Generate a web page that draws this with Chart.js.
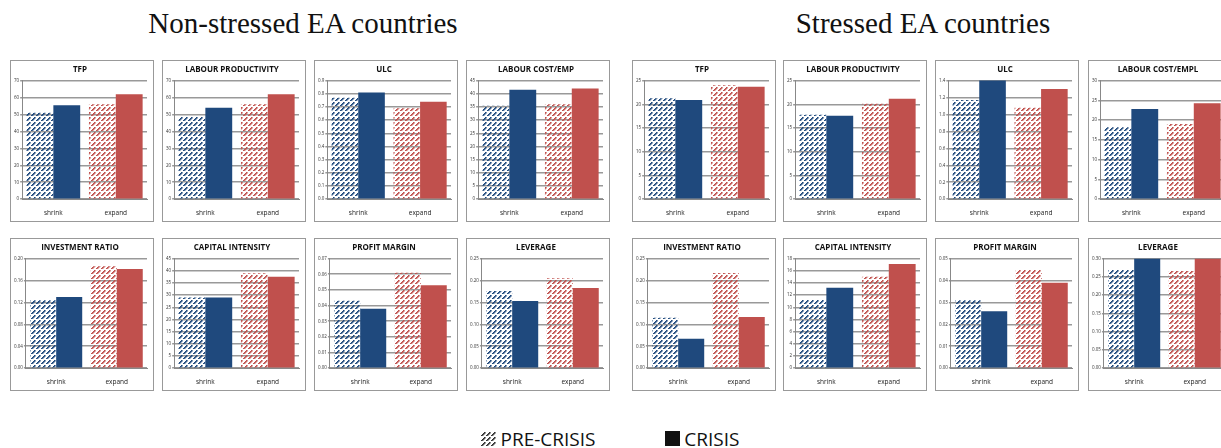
<!DOCTYPE html>
<html>
<head>
<meta charset="utf-8">
<script src="https://cdn.jsdelivr.net/npm/chart.js@4"></script>
<style>
  body { margin: 0; width: 1221px; height: 448px; overflow: hidden; background: #fff; position: relative; font-family: "Open Sans", sans-serif; }
  .group-title { position: absolute; top: 7px; font-family: "Liberation Serif", serif; font-size: 29px; color: #111; text-align: center; width: 500px; }
  .panel { position: absolute; border: 1px solid #999; background: #fff; box-sizing: border-box; }
  .legend { position: absolute; top: 424px; left: 0; width: 1221px; text-align: center; font-size: 19px; color: #111; }
  .legend span { display: inline-block; vertical-align: middle; }
  .sw { width: 15px; height: 15px; margin-right: 4px; }
</style>
</head>
<body>
<div class="group-title" style="left:53px">Non-stressed EA countries</div>
<div class="group-title" style="left:673px">Stressed EA countries</div>
<div class="legend">
  <canvas id="swPre" class="sw" width="15" height="15" style="vertical-align:middle"></canvas><span>PRE-CRISIS</span>
  <span style="width:60px"></span>
  <span class="sw" style="background:#111"></span><span>CRISIS</span>
</div>
<script>
// categories and panel titles
const categories = ['shrink', 'expand'];
const nsTitles = ['TFP', 'LABOUR PRODUCTIVITY', 'ULC', 'LABOUR COST/EMP', 'INVESTMENT RATIO', 'CAPITAL INTENSITY', 'PROFIT MARGIN', 'LEVERAGE'];
const sTitles = ['TFP', 'LABOUR PRODUCTIVITY', 'ULC', 'LABOUR COST/EMPL', 'INVESTMENT RATIO', 'CAPITAL INTENSITY', 'PROFIT MARGIN', 'LEVERAGE'];

// Non-stressed values: [shrink, expand]
const nsPre = [[51, 56], [48.5, 56], [0.77, 0.69], [35.5, 36], [0.124, 0.186], [29, 39], [0.043, 0.061], [0.176, 0.205]];
const nsCrisis = [[55.5, 62], [54, 62], [0.81, 0.74], [41.5, 42], [0.13, 0.181], [29, 37.5], [0.038, 0.053], [0.153, 0.183]];
const nsMax = [70, 70, 0.9, 45, 0.2, 45, 0.07, 0.25];
const nsStep = [10, 10, 0.1, 5, 0.04, 5, 0.01, 0.05];
const nsDec = [0, 0, 1, 0, 2, 0, 2, 2];

// Stressed values
const sPre = [[21.3, 24], [17.8, 20.1], [1.17, 1.08], [18.2, 19], [0.115, 0.217], [11.2, 15], [0.031, 0.045], [0.27, 0.266]];
const sCrisis = [[20.9, 23.7], [17.6, 21.2], [1.41, 1.3], [22.8, 24.3], [0.067, 0.117], [13.2, 17.1], [0.026, 0.039], [0.30, 0.30]];
const sMax = [25, 25, 1.4, 30, 0.25, 18, 0.05, 0.30];
const sStep = [5, 5, 0.2, 5, 0.05, 2, 0.01, 0.05];
const sDec = [0, 0, 1, 0, 2, 0, 2, 2];

const BLUE = '#1f497d';
const RED = '#c0504d';

function hatch(color) {
    const c = document.createElement('canvas');
    c.width = 5; c.height = 5;
    const g = c.getContext('2d');
    g.fillStyle = color;
    // dashed diagonal going up-right
    [[0, 4], [1, 3], [2, 2], [3, 1]].forEach(p => g.fillRect(p[0], p[1], 1.6, 1.6));
    return g.createPattern(c, 'repeat');
}

// legend swatch
(function () {
    const g = document.getElementById('swPre').getContext('2d');
    g.fillStyle = hatch('#333');
    g.fillRect(0, 0, 15, 15);
})();

const colX = [[10, 162, 314, 466], [632, 783, 935, 1088]];
const rowY = [[60, 238], [60, 238]];
const panelW = 144, panelH = [162, 153];

function makePanel(left, top, h, title, pre, crisis, max, step, dec) {
    const div = document.createElement('div');
    div.className = 'panel';
    div.style.left = left + 'px';
    div.style.top = top + 'px';
    div.style.width = panelW + 'px';
    div.style.height = h + 'px';
    const cv = document.createElement('canvas');
    div.appendChild(cv);
    document.body.appendChild(div);

    new Chart(cv, {
        type: 'bar',
        data: {
            labels: categories,
            datasets: [
                { label: 'PRE-CRISIS', data: pre, backgroundColor: [hatch(BLUE), hatch(RED)] },
                { label: 'CRISIS', data: crisis, backgroundColor: [BLUE, RED] }
            ]
        },
        options: {
            responsive: true,
            maintainAspectRatio: false,
            animation: false,
            layout: { padding: { left: 2, right: 6, top: 0, bottom: 2 } },
            datasets: { bar: { categoryPercentage: 0.86, barPercentage: 1.0 } },
            plugins: {
                legend: { display: false },
                tooltip: { enabled: false },
                title: {
                    display: true, text: title, color: '#111',
                    font: { family: 'Open Sans', size: 8, weight: 'bold' },
                    padding: { top: 4, bottom: 6 }
                }
            },
            scales: {
                x: {
                    grid: { display: false },
                    border: { color: '#888' },
                    ticks: { color: '#222', font: { family: 'Open Sans', size: 6.5 }, padding: 2 }
                },
                y: {
                    min: 0, max: max,
                    border: { color: '#888' },
                    grid: { color: '#999', lineWidth: 1.6, drawTicks: true, tickLength: 2 },
                    ticks: {
                        stepSize: step, color: '#333',
                        font: { family: 'Open Sans', size: 4.5 },
                        padding: 1,
                        callback: v => Number(v).toFixed(dec)
                    }
                }
            }
        }
    });
}

for (let i = 0; i < 8; i++) {
    const r = Math.floor(i / 4), c = i % 4;
    makePanel(colX[0][c], rowY[0][r], panelH[r], nsTitles[i], nsPre[i], nsCrisis[i], nsMax[i], nsStep[i], nsDec[i]);
    makePanel(colX[1][c], rowY[1][r], panelH[r], sTitles[i], sPre[i], sCrisis[i], sMax[i], sStep[i], sDec[i]);
}
</script>
</body>
</html>
